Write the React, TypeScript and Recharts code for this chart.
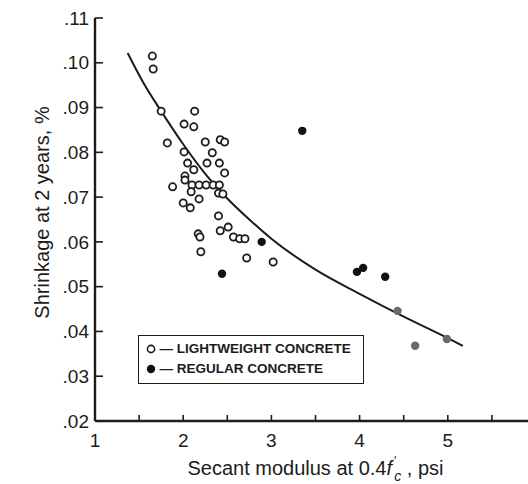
import { ScatterChart, Scatter, XAxis, YAxis, Legend } from 'recharts';

// axis ticks
const xTicks = [1, 1.5, 2, 2.5, 3, 3.5, 4, 4.5, 5, 5.5, 6];
const yTicks = [0.02, 0.03, 0.04, 0.05, 0.06, 0.07, 0.08, 0.09, 0.1, 0.11];

// open circles
const lightweight = [
  { x: 1.65, y: 0.1015 }, { x: 1.66, y: 0.0986 }, { x: 1.75, y: 0.0892 }, { x: 2.13, y: 0.0892 },
  { x: 2.01, y: 0.0863 }, { x: 2.12, y: 0.0857 }, { x: 1.82, y: 0.0821 }, { x: 2.25, y: 0.0823 },
  { x: 2.42, y: 0.0828 }, { x: 2.47, y: 0.0823 }, { x: 2.33, y: 0.0799 }, { x: 2.01, y: 0.0801 },
  { x: 2.05, y: 0.0776 }, { x: 2.27, y: 0.0776 }, { x: 2.41, y: 0.0776 }, { x: 2.12, y: 0.0761 },
  { x: 2.47, y: 0.0754 }, { x: 2.02, y: 0.0747 }, { x: 2.02, y: 0.0738 }, { x: 1.88, y: 0.0723 },
  { x: 2.1, y: 0.0727 }, { x: 2.18, y: 0.0727 }, { x: 2.26, y: 0.0727 }, { x: 2.34, y: 0.0727 },
  { x: 2.41, y: 0.0727 }, { x: 2.09, y: 0.0712 }, { x: 2.4, y: 0.0709 }, { x: 2.45, y: 0.0707 },
  { x: 2.0, y: 0.0687 }, { x: 2.08, y: 0.0676 }, { x: 2.18, y: 0.0696 }, { x: 2.4, y: 0.0658 },
  { x: 2.42, y: 0.0625 }, { x: 2.51, y: 0.0633 }, { x: 2.17, y: 0.0618 }, { x: 2.19, y: 0.0611 },
  { x: 2.57, y: 0.0611 }, { x: 2.64, y: 0.0607 }, { x: 2.7, y: 0.0607 }, { x: 2.2, y: 0.0578 },
  { x: 2.72, y: 0.0564 }, { x: 3.02, y: 0.0555 },
];

// filled circles
const regular = [
  { x: 3.35, y: 0.0848 }, { x: 2.89, y: 0.06 }, { x: 2.44, y: 0.0529 }, { x: 3.97, y: 0.0533 },
  { x: 4.04, y: 0.0542 }, { x: 4.29, y: 0.0522 }, { x: 4.43, y: 0.0446 }, { x: 4.63, y: 0.0368 },
  { x: 4.99, y: 0.0383 },
];

// fitted curve
const fitCurve = [
  { x: 1.37, y: 0.1022 }, { x: 1.55, y: 0.0955 }, { x: 1.75, y: 0.0892 }, { x: 2.0, y: 0.0818 },
  { x: 2.25, y: 0.0752 }, { x: 2.5, y: 0.0697 }, { x: 2.75, y: 0.065 }, { x: 3.0, y: 0.0607 },
  { x: 3.5, y: 0.0538 }, { x: 4.0, y: 0.0484 }, { x: 4.5, y: 0.0433 }, { x: 5.0, y: 0.0385 },
  { x: 5.17, y: 0.0368 },
];

const font = '"Liberation Sans", Arial, Helvetica, sans-serif';
const ink = '#1c1c1c';

const BottomTick = ({ x, y, payload }: any) => (
  <g>
    <line x1={x} y1={y} x2={x} y2={y - 6} stroke={ink} strokeWidth={1.6} />
    {Number.isInteger(payload.value) && (
      <text x={x} y={y + 26} textAnchor="middle" fontSize={19} fontFamily={font} fill={ink}>
        {payload.value}
      </text>
    )}
  </g>
);

const TopTick = ({ x, y }: any) => (
  <line x1={x} y1={y} x2={x} y2={y + 6} stroke={ink} strokeWidth={1.4} />
);

const LeftTick = ({ x, y, payload }: any) => (
  <g>
    <line x1={x} y1={y} x2={x + 8} y2={y} stroke={ink} strokeWidth={1.6} />
    <text x={x - 6} y={y} dy="0.35em" textAnchor="end" fontSize={19} fontFamily={font} fill={ink}>
      {payload.value.toFixed(2).slice(1)}
    </text>
  </g>
);

const RightTick = ({ x, y }: any) => (
  <line x1={x} y1={y} x2={x - 8} y2={y} stroke="#bbb" strokeWidth={1.2} />
);

const YTitle = ({ viewBox }: any) => {
  const cx = viewBox.x + 42;
  const cy = viewBox.y + viewBox.height / 2 - 7;
  return (
    <text x={cx} y={cy} dy="0.35em" textAnchor="middle" transform={`rotate(-90, ${cx}, ${cy})`}
      fontSize={20} fontFamily={font} fill={ink}>
      Shrinkage at 2 years, %
    </text>
  );
};

const XTitle = ({ viewBox }: any) => (
  <text x={viewBox.x + viewBox.width / 2} y={viewBox.y + 54} textAnchor="middle" fontSize={20}
    fontFamily={font} fill={ink}>
    Secant modulus at 0.4<tspan fontStyle="italic">f</tspan>
    <tspan fontSize={12} dx={2} dy={-10}>′</tspan>
    <tspan fontSize={14} fontStyle="italic" dx={-2} dy={16}>c</tspan>
    <tspan dy={-6}> , psi</tspan>
  </text>
);

const OpenDot = ({ cx, cy }: any) => (
  <circle cx={cx} cy={cy} r={3.6} fill="#fff" stroke={ink} strokeWidth={1.8} />
);

const FilledDot = ({ cx, cy, payload }: any) => (
  <circle cx={cx} cy={cy} r={4.2} fill={payload.x > 4.4 ? '#6a6a6a' : '#111'} />
);

const NoDot = () => <g />;

const LegendBox = () => {
  const row = { display: 'flex', alignItems: 'center', height: 20 };
  return (
    <div style={{
      border: `1.6px solid ${ink}`, width: 226, height: 49, boxSizing: 'border-box', padding: '3px 0 0 0',
      fontFamily: font, fontWeight: 'bold', fontSize: 13.5, color: ink, background: '#fff', lineHeight: '20px',
    }}>
      <div style={row}>
        <svg width={12} height={12} style={{ marginLeft: 5.5 }}>
          <circle cx={6} cy={6} r={3.6} fill="#fff" stroke={ink} strokeWidth={1.6} />
        </svg>
        <span style={{ marginLeft: 3 }}>— LIGHTWEIGHT CONCRETE</span>
      </div>
      <div style={row}>
        <svg width={12} height={12} style={{ marginLeft: 5.5 }}>
          <circle cx={6} cy={6} r={4.2} fill="#111" />
        </svg>
        <span style={{ marginLeft: 3 }}>— REGULAR CONCRETE</span>
      </div>
    </div>
  );
};

export default function App() {
  return (
    <div style={{ position: 'absolute', left: 0, top: 0, width: 528, height: 484, overflow: 'hidden', background: '#fff' }}>
      <ScatterChart width={560} height={484} margin={{ top: 18, right: 24, bottom: 0, left: 0 }}>
        <XAxis
          type="number"
          dataKey="x"
          domain={[1, 6]}
          ticks={xTicks}
          interval={0}
          height={63}
          tickSize={0}
          tickMargin={0}
          tick={<BottomTick />}
          axisLine={{ stroke: ink, strokeWidth: 2.4 }}
          allowDataOverflow
          label={<XTitle />}
        />
        <XAxis
          xAxisId="top"
          orientation="top"
          type="number"
          dataKey="x"
          domain={[1, 6]}
          ticks={xTicks}
          interval={0}
          height={0}
          tickSize={0}
          tickMargin={0}
          tick={<TopTick />}
          axisLine={{ stroke: ink, strokeWidth: 1.6 }}
          allowDataOverflow
        />
        <YAxis
          type="number"
          dataKey="y"
          domain={[0.02, 0.11]}
          ticks={yTicks}
          interval={0}
          width={95}
          tickSize={0}
          tickMargin={0}
          tick={<LeftTick />}
          axisLine={{ stroke: ink, strokeWidth: 2.4 }}
          allowDataOverflow
          label={<YTitle />}
        />
        <YAxis
          yAxisId="right"
          orientation="right"
          type="number"
          dataKey="y"
          domain={[0.02, 0.11]}
          ticks={yTicks}
          interval={0}
          width={0}
          tickSize={0}
          tickMargin={0}
          tick={<RightTick />}
          axisLine={{ stroke: '#bbb', strokeWidth: 1.2 }}
          allowDataOverflow
        />
        <Legend
          layout="vertical"
          align="center"
          verticalAlign="middle"
          content={<LegendBox />}
          wrapperStyle={{ left: 138, top: 335, width: 226, height: 49 }}
        />
        <Scatter
          name="fit"
          data={fitCurve}
          line={{ stroke: ink, strokeWidth: 2 }}
          lineJointType="monotoneX"
          shape={<NoDot />}
          legendType="none"
          isAnimationActive={false}
        />
        <Scatter name="LIGHTWEIGHT CONCRETE" data={lightweight} shape={<OpenDot />} isAnimationActive={false} />
        <Scatter name="REGULAR CONCRETE" data={regular} shape={<FilledDot />} isAnimationActive={false} />
      </ScatterChart>
    </div>
  );
}
